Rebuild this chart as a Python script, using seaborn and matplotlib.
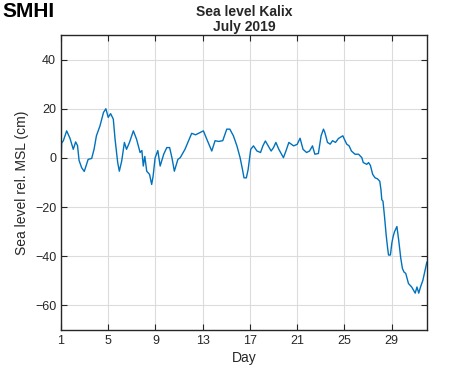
import numpy as np
import pandas as pd
import matplotlib
matplotlib.use("Agg")
import matplotlib.pyplot as plt
import seaborn as sns

# Sea level readings (day of July 2019, cm rel. MSL)
days = [
    1.0, 1.05, 1.2, 1.48, 1.76, 2.04, 2.24, 2.4, 2.53, 2.75,
    2.97, 3.3, 3.6, 3.8, 4.0, 4.3, 4.6, 4.8, 5.0, 5.2,
    5.43, 5.58, 5.8, 5.94, 6.14, 6.37, 6.55, 6.8, 7.13, 7.4,
    7.7, 7.85, 7.97, 8.1, 8.26, 8.5, 8.68, 8.8, 8.97, 9.2,
    9.4, 9.7, 9.96, 10.2, 10.4, 10.6, 10.9, 11.1, 11.5, 11.8,
    12.07, 12.4, 13.06, 13.35, 13.77, 14.05, 14.35, 14.7, 15.04, 15.3,
    15.6, 15.9, 16.17, 16.37, 16.5, 16.7, 16.85, 17.07, 17.3, 17.6,
    17.9, 18.1, 18.31, 18.55, 18.8, 19.0, 19.2, 19.45, 19.84, 20.05,
    20.3, 20.7, 21.0, 21.25, 21.5, 21.8, 22.05, 22.3, 22.5, 22.8,
    23.03, 23.23, 23.35, 23.57, 23.8, 24.0, 24.25, 24.5, 24.87, 25.0,
    25.2, 25.4, 25.6, 25.9, 26.2, 26.48, 26.6, 26.9, 27.05, 27.2,
    27.4, 27.6, 27.8, 28.0, 28.1, 28.17, 28.27, 28.4, 28.54, 28.65,
    28.74, 28.9, 29.02, 29.13, 29.25, 29.45, 29.6, 29.78, 29.92, 30.05,
    30.2, 30.43, 30.7, 31.0, 31.15, 31.3, 31.45, 31.65, 31.8, 31.99,
]
sea_level = [
    -5, 6, 7, 11, 8, 3.5, 6.5, 5, -1, -4,
    -5.5, -0.6, -0.2, 3.5, 9, 13, 18.5, 20, 16.5, 18,
    15.8, 7.6, -1.8, -5.4, -1.3, 6.3, 3.5, 6.3, 11, 7.6,
    2.2, 3, -3.3, 0.6, -5.4, -6.7, -10.8, -7.5, 0, 3,
    -3.3, 1.5, 4.2, 4.2, 0, -5.4, -0.6, 0.1, 3.5, 6.9,
    10, 9.4, 11, 7.6, 2.8, 7, 6.7, 7, 11.7, 11.7,
    9, 4.9, 0.1, -4.7, -8.1, -8.1, -4.7, 3.5, 4.9, 2.8,
    2.2, 4.9, 6.9, 4.9, 2.8, 4.2, 6.3, 3.5, 0.1, 2.8,
    6.3, 4.9, 5.5, 8, 3.5, 2.2, 2.8, 4.9, 1.5, 1.8,
    9, 11.7, 10.3, 6.3, 5.6, 7, 6.3, 7.9, 9, 7.6,
    5.6, 4.9, 2.8, 1.5, 1.5, 0.1, -1.9, -2.6, -1.9, -3,
    -6.7, -8.1, -8.5, -9.5, -12.9, -17, -17.6, -23.8, -31.3, -36.1,
    -39.5, -39.5, -34.7, -32, -30, -27.9, -33.4, -40.9, -45, -46.4,
    -47, -51.1, -52.5, -55, -52.5, -55, -52.5, -49.8, -46.4, -42.3,
]
x_ticks = [1, 5, 9, 13, 17, 21, 25, 29]
y_ticks = [-60, -40, -20, 0, 20, 40]

df = pd.DataFrame({"day": days, "level": sea_level})

sns.set_style("ticks")
plt.rcParams["font.family"] = ["Liberation Sans", "DejaVu Sans"]

fig = plt.figure(figsize=(4.71, 3.71), dpi=100)
ax = fig.add_axes([0.1295, 0.1105, 0.7771, 0.7952])

sns.lineplot(data=df, x="day", y="level", ax=ax, color="#0072BD",
             linewidth=1.0, estimator=None, sort=False)

ax.set_xlim(1, 32)
ax.set_ylim(-70, 50)
ax.set_xticks(x_ticks)
ax.set_yticks(y_ticks)
ax.grid(True, color="#dcdcdc", linewidth=0.8)
ax.set_axisbelow(True)
ax.tick_params(direction="in", top=True, right=True, length=4,
               color="#262626", labelsize=9, labelcolor="#262626")
for s in ax.spines.values():
    s.set_visible(True)
    s.set_color("#262626")
    s.set_linewidth(1.0)

ax.set_xlabel("Day", fontsize=10, color="#262626", labelpad=3)
ax.set_ylabel("Sea level rel. MSL (cm)", fontsize=10, color="#262626", labelpad=4)
ax.set_title("Sea level Kalix\nJuly 2019", fontsize=10, fontweight="bold",
             color="#262626", pad=3, linespacing=1.1)

fig.text(0.006, 0.995, "SMHI", fontsize=15, fontweight="heavy", va="top",
         ha="left", color="black",
         family=["Liberation Sans Narrow", "Liberation Sans", "DejaVu Sans"])

fig.savefig("out.png", dpi=100)
